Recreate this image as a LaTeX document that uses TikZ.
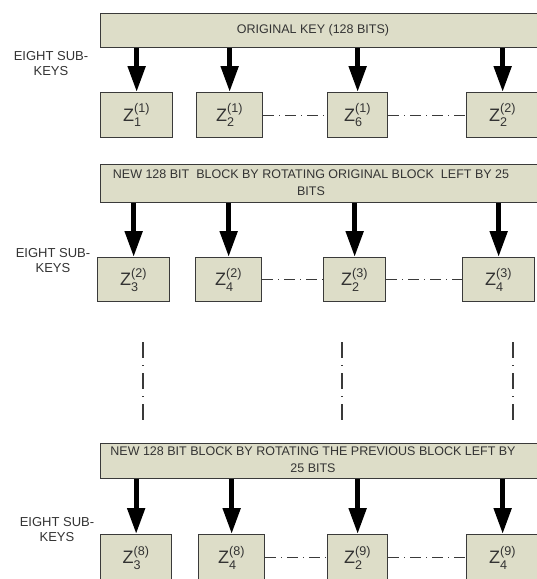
\documentclass[tikz,border=0pt]{standalone}
\usepackage{amsmath}
\usepackage{fontspec}
\setmainfont{Liberation Sans}
\usepackage{tikz}
\usetikzlibrary{arrows.meta}

\definecolor{boxfill}{HTML}{DDDDC8}
\definecolor{boxline}{HTML}{3A3A3A}
\definecolor{txt}{HTML}{333333}

\newcommand{\subkey}[2]{$\text{Z}_{\text{#1}}^{\text{(#2)}}$}

\tikzset{
  keybox/.style={draw=boxline, fill=boxfill, line width=1.3pt, inner sep=0pt, anchor=north west},
  keytext/.style={text=txt, font=\fontsize{12.5}{17}\selectfont, align=center, inner sep=0pt},
  subbox/.style={draw=boxline, fill=boxfill, line width=1.3pt, anchor=north west, inner sep=0pt,
    text=txt, font=\fontsize{18}{20}\selectfont},
  rowlabel/.style={text=txt, font=\fontsize{13}{15}\selectfont, align=center, inner sep=0pt},
  fatarrow/.style={line width=5pt, -{Triangle[width=17pt,length=26pt]}},
  dotdash/.style={line width=1.3pt, boxline, dash pattern=on 11pt off 5pt on 1pt off 5pt}
}

\begin{document}
\begin{tikzpicture}[x=1pt, y=-1pt]
  \useasboundingbox (0,0) rectangle (537,579);
  \clip (0,0) rectangle (537,579);

  % first round of sub-keys
  \node[keybox, minimum width=470, minimum height=34] (key1) at (100,13) {};
  \node[keytext] (key1t) at (313,30) {ORIGINAL KEY (128 BITS)};
  \node[rowlabel] (lab1) at (51,64) {EIGHT SUB-\\KEYS};
  \node[subbox, minimum width=72, minimum height=45] (z11) at (100,92) {\subkey{1}{1}};
  \node[subbox, minimum width=66, minimum height=45] (z12) at (196,92) {\subkey{2}{1}};
  \node[subbox, minimum width=60, minimum height=45] (z13) at (327,92) {\subkey{6}{1}};
  \node[subbox, minimum width=72, minimum height=45] (z14) at (466,92) {\subkey{2}{2}};

  % second round
  \node[keybox, minimum width=470, minimum height=38] (key2) at (100,164) {};
  \node[keytext] (key2t) at (311,183) {NEW 128 BIT\ \ BLOCK BY ROTATING ORIGINAL BLOCK\ \ LEFT BY 25\\BITS};
  \node[rowlabel] (lab2) at (53,261) {EIGHT SUB-\\KEYS};
  \node[subbox, minimum width=72, minimum height=44] (z21) at (97,257) {\subkey{3}{2}};
  \node[subbox, minimum width=66, minimum height=44] (z22) at (195,257) {\subkey{4}{2}};
  \node[subbox, minimum width=62, minimum height=44] (z23) at (323,257) {\subkey{2}{3}};
  \node[subbox, minimum width=72, minimum height=44] (z24) at (462,257) {\subkey{4}{3}};

  % last round
  \node[keybox, minimum width=470, minimum height=35] (key3) at (100,443) {};
  \node[keytext] (key3t) at (313,460) {NEW 128 BIT BLOCK BY ROTATING THE PREVIOUS BLOCK LEFT BY\\25 BITS};
  \node[rowlabel] (lab3) at (57,530) {EIGHT SUB-\\KEYS};
  \node[subbox, minimum width=71, minimum height=46] (z31) at (100,534) {\subkey{3}{8}};
  \node[subbox, minimum width=66, minimum height=46] (z32) at (198,534) {\subkey{4}{8}};
  \node[subbox, minimum width=60, minimum height=46] (z33) at (327,534) {\subkey{2}{9}};
  \node[subbox, minimum width=72, minimum height=46] (z34) at (466,534) {\subkey{4}{9}};

  \foreach \r in {1,2,3} {
    \foreach \i in {1,...,4}
      \draw[fatarrow] (key\r.south -| z\r\i.north) -- (z\r\i.north);
    \draw[dotdash] (z\r2.east) -- (z\r3.west);
    \draw[dotdash] (z\r3.east) -- (z\r4.west);
  }

  % rounds left out
  \foreach \x in {143,342,513}
    \draw[dotdash, dash pattern=on 16pt off 7pt on 1pt off 7pt] (\x,342) -- (\x,421);
\end{tikzpicture}
\end{document}
